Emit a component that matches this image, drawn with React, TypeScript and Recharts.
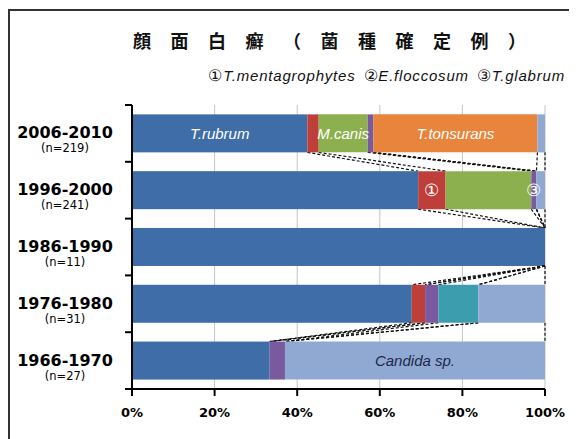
import { BarChart, Bar, XAxis, YAxis, CartesianGrid, LabelList } from "recharts";

const periods = ["2006-2010", "1996-2000", "1986-1990", "1976-1980", "1966-1970"];
const totals = [219, 241, 11, 31, 27];

// counts per species
const rubrum = [93, 167, 11, 21, 9];
const mentagrophytes = [6, 16, 0, 1, 0];
const canis = [26, 50, 0, 0, 0];
const glabrum = [3, 3, 0, 1, 1];
const otherDerm = [0, 0, 0, 3, 0];
const tonsurans = [87, 0, 0, 0, 0];
const others = [4, 5, 0, 5, 17];

const rubrumLabels = ["T.rubrum", "", "", "", ""];
const mentaLabels = ["", "①", "", "", ""];
const canisLabels = ["M.canis", "", "", "", ""];
const glabrumLabels = ["", "③", "", "", ""];
const otherDermLabels = ["", "", "", "", ""];
const tonsuransLabels = ["T.tonsurans", "", "", "", ""];
const othersLabels = ["", "", "", "", "Candida sp."];

const xTicks = [0, 20, 40, 60, 80, 100];

const series = [
  { key: "rubrum", counts: rubrum, labels: rubrumLabels, color: "#3e6da7", text: "#fff", italic: true },
  { key: "mentagrophytes", counts: mentagrophytes, labels: mentaLabels, color: "#be3f3a", text: "#fff", italic: false },
  { key: "canis", counts: canis, labels: canisLabels, color: "#8db04f", text: "#fff", italic: true },
  { key: "glabrum", counts: glabrum, labels: glabrumLabels, color: "#7a5a9e", text: "#fff", italic: false },
  { key: "otherDerm", counts: otherDerm, labels: otherDermLabels, color: "#3c9dae", text: "#fff", italic: true },
  { key: "tonsurans", counts: tonsurans, labels: tonsuransLabels, color: "#e8843b", text: "#fff", italic: true },
  { key: "others", counts: others, labels: othersLabels, color: "#8fa9d3", text: "#1c2848", italic: true },
];

const rows = periods.map((period, i) => {
  const row: Record<string, any> = { period };
  series.forEach((s) => {
    row[s.key] = (s.counts[i] / totals[i]) * 100;
    row[s.key + "Label"] = s.labels[i];
  });
  return row;
});

const W = 567;
const H = 428;
const PLOT_H = 284;
const band = PLOT_H / periods.length;

// first segment also draws the dashed series lines down to the next bar
function RubrumShape(props: any) {
  const { x, y, width, height, fill, payload } = props;
  const i = rows.findIndex((r) => r.period === payload.period);
  const row = rows[i];
  const next = rows[i + 1];
  const k = row.rubrum > 0 ? width / row.rubrum : 0;
  const lines: any[] = [];
  if (next && k > 0) {
    let a = 0;
    let b = 0;
    series.forEach((s) => {
      a += row[s.key];
      b += next[s.key];
      lines.push(
        <line
          key={s.key}
          x1={x + a * k}
          y1={y + height}
          x2={x + b * k}
          y2={y + band}
          stroke="#111"
          strokeWidth={1.2}
          strokeDasharray="3 2"
        />
      );
    });
  }
  return (
    <g>
      <rect x={x} y={y} width={width} height={height} fill={fill} />
      {lines}
    </g>
  );
}

function PeriodTick(props: any) {
  const { x, y, payload } = props;
  const i = periods.indexOf(payload.value);
  const off = payload.offset ?? band / 2;
  return (
    <g>
      <line x1={x - 7} x2={x} y1={y - off} y2={y - off} stroke="#000" strokeWidth={2} />
      {i === periods.length - 1 && (
        <line x1={x - 7} x2={x} y1={y + off} y2={y + off} stroke="#000" strokeWidth={2} />
      )}
      <text x={x - 67} y={y + 5} textAnchor="middle" fontSize={16} fontWeight="bold" fill="#000" fontFamily="DejaVu Sans">
        {payload.value}
      </text>
      <text x={x - 67} y={y + 19} textAnchor="middle" fontSize={11.5} fill="#000" fontFamily="DejaVu Sans">
        (n={totals[i]})
      </text>
    </g>
  );
}

export default function App() {
  return (
    <div
      style={{
        position: "relative",
        width: 569,
        height: 430,
        marginTop: 1,
        borderTop: "2px solid #333",
        borderLeft: "2px solid #333",
        boxSizing: "border-box",
        background: "#fff",
        fontFamily: "'Liberation Sans', Arial, sans-serif",
      }}
    >
      <div
        style={{
          position: "absolute",
          left: 123,
          top: 17,
          fontSize: 18,
          lineHeight: "24px",
          fontWeight: "bold",
          letterSpacing: 19.5,
          whiteSpace: "nowrap",
          fontFamily: "'Noto Sans CJK JP', sans-serif",
          color: "#111",
        }}
      >
        顔面白癬（菌種確定例）
      </div>
      <div
        style={{
          position: "absolute",
          right: 12,
          top: 56,
          fontSize: 15,
          lineHeight: "18px",
          letterSpacing: 0.8,
          whiteSpace: "nowrap",
          color: "#111",
        }}
      >
        <span style={{ fontSize: 16 }}>①</span>
        <i>T.mentagrophytes</i>
        <span style={{ fontSize: 16, marginLeft: 8 }}>②</span>
        <i>E.floccosum</i>
        <span style={{ fontSize: 16, marginLeft: 8 }}>③</span>
        <i>T.glabrum</i>
      </div>
      <BarChart
        width={W}
        height={H}
        data={rows}
        layout="vertical"
        barCategoryGap="16.5%"
        margin={{ top: 94, right: 32, bottom: 20, left: 0 }}
      >
        <CartesianGrid horizontal={false} stroke="#c4c4c4" />
        <XAxis
          type="number"
          domain={[0, 100]}
          ticks={xTicks}
          tickFormatter={(v) => `${v}%`}
          height={30}
          axisLine={{ stroke: "#000", strokeWidth: 2 }}
          tickLine={{ stroke: "#000", strokeWidth: 2 }}
          tickSize={7}
          tickMargin={12}
          tick={{ fontSize: 13, fontWeight: "bold", fill: "#000", fontFamily: "DejaVu Sans" }}
        />
        <YAxis
          type="category"
          dataKey="period"
          width={122}
          axisLine={{ stroke: "#000", strokeWidth: 2 }}
          tickLine={false}
          tickSize={0}
          tickMargin={0}
          tick={<PeriodTick />}
        />
        {series.map((s) => (
          <Bar
            key={s.key}
            dataKey={s.key}
            stackId="a"
            fill={s.color}
            isAnimationActive={false}
            shape={s.key === "rubrum" ? <RubrumShape /> : undefined}
          >
            <LabelList
              dataKey={s.key + "Label"}
              position="center"
              fill={s.text}
              fontSize={s.italic ? 15 : 17}
              fontStyle={s.italic ? "italic" : "normal"}
            />
          </Bar>
        ))}
      </BarChart>
    </div>
  );
}
